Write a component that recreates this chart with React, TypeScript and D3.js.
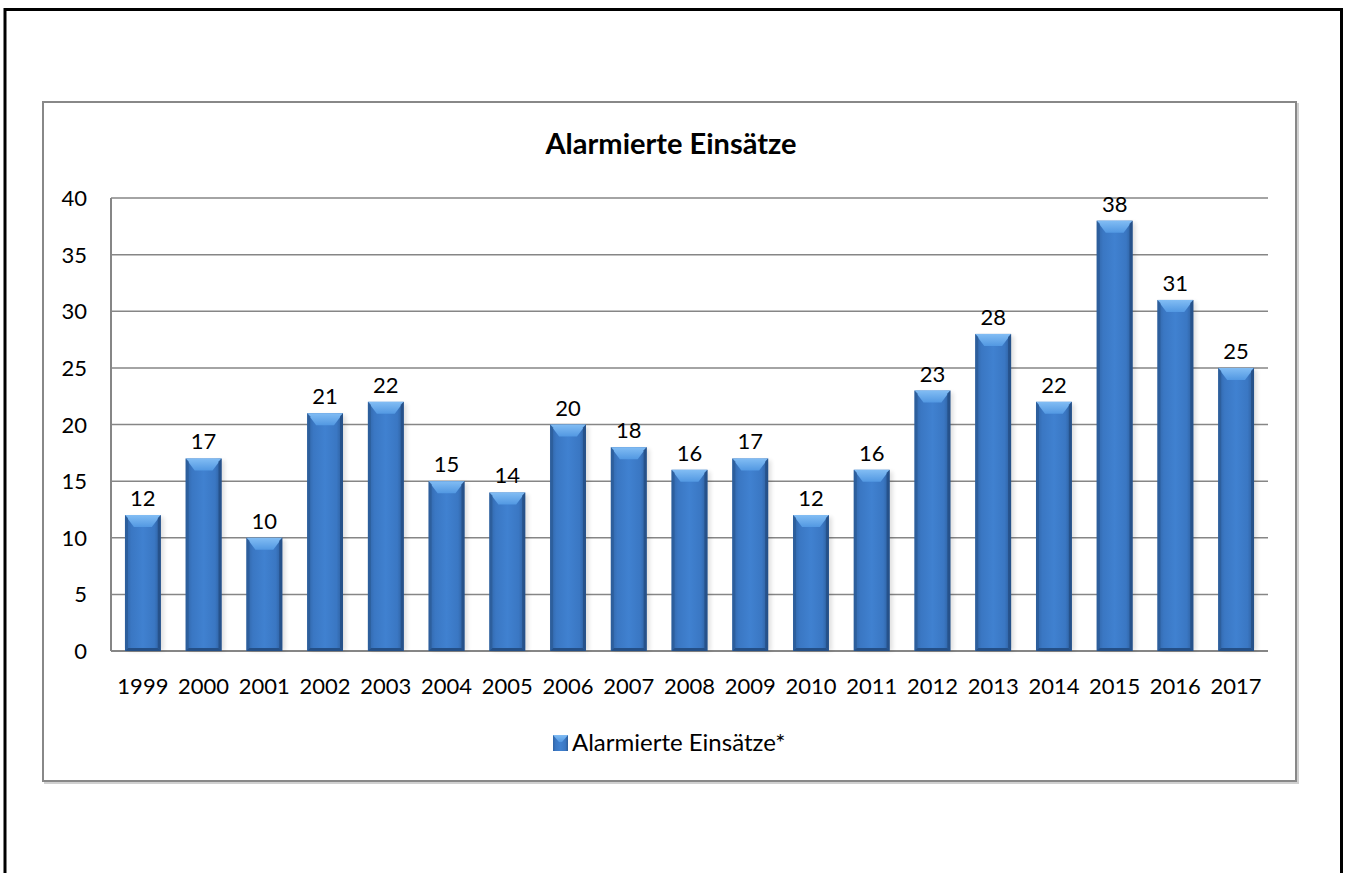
import React from 'react';
import { scaleBand, scaleLinear } from 'd3';

// Daten
const years = ['1999', '2000', '2001', '2002', '2003', '2004', '2005', '2006', '2007', '2008', '2009', '2010', '2011', '2012', '2013', '2014', '2015', '2016', '2017'];
const einsaetze = [12, 17, 10, 21, 22, 15, 14, 20, 18, 16, 17, 12, 16, 23, 28, 22, 38, 31, 25];
const yTicks = [0, 5, 10, 15, 20, 25, 30, 35, 40];
const title = 'Alarmierte Einsätze';
const seriesName = 'Alarmierte Einsätze*';

const font = 'Lato, sans-serif';

function App() {
  const width = 1346,
    height = 873;
  const plot = { left: 111, right: 1268, top: 198, bottom: 651 };

  const x = scaleBand<string>()
    .domain(years)
    .range([plot.left, plot.right])
    .paddingInner(0.41)
    .paddingOuter(0.23);
  const y = scaleLinear().domain([0, 40]).range([plot.bottom, plot.top]);

  // Balken mit Kanteneffekt
  const bar = (yr: string, v: number) => {
    const bx = x(yr) as number;
    const bw = x.bandwidth();
    const top = y(v);
    const bot = y(0);
    const b = 9; // Breite der Abschrägung
    return (
      <g key={yr}>
        <rect x={bx + 3} y={top + 2} width={bw} height={bot - top - 2} fill="#000" opacity={0.12} filter="url(#shadow)" />
        <rect x={bx} y={top} width={bw} height={bot - top} fill="url(#barBody)" />
        {/* oben */}
        <polygon
          points={`${bx},${top} ${bx + bw},${top} ${bx + bw - b},${top + b + 3} ${bx + b},${top + b + 3}`}
          fill="url(#barTop)"
        />
        {/* links */}
        <polygon points={`${bx},${top} ${bx + 3},${top + 3} ${bx + 3},${bot - 3} ${bx},${bot}`} fill="#2c5c99" opacity={0.8} />
        {/* rechts */}
        <polygon
          points={`${bx + bw},${top} ${bx + bw - 3},${top + 3} ${bx + bw - 3},${bot - 3} ${bx + bw},${bot}`}
          fill="#244f86"
          opacity={0.85}
        />
        {/* unten */}
        <polygon
          points={`${bx},${bot} ${bx + 3},${bot - 3} ${bx + bw - 3},${bot - 3} ${bx + bw},${bot}`}
          fill="#244f86"
        />
        <text x={bx + bw / 2} y={top - 9} textAnchor="middle" fontSize={22} fill="#000">
          {v}
        </text>
      </g>
    );
  };

  return (
    <svg
      width={width}
      height={height}
      style={{ position: 'absolute', left: 0, top: 0, display: 'block', fontFamily: font }}
    >
      <defs>
        <linearGradient id="barBody" x1="0" x2="1" y1="0" y2="0">
          <stop offset="0%" stopColor="#3064a6" />
          <stop offset="18%" stopColor="#3a77c3" />
          <stop offset="50%" stopColor="#4081d0" />
          <stop offset="82%" stopColor="#3a77c3" />
          <stop offset="100%" stopColor="#2c5c99" />
        </linearGradient>
        <linearGradient id="barTop" x1="0" x2="0" y1="0" y2="1">
          <stop offset="0%" stopColor="#82bdf4" />
          <stop offset="100%" stopColor="#5298e2" />
        </linearGradient>
        <filter id="shadow" x="-20%" y="-5%" width="140%" height="110%">
          <feGaussianBlur stdDeviation="2" />
        </filter>
      </defs>
      <rect x={0} y={0} width={width} height={height} fill="#fff" />

      {/* Rahmen */}
      <path d={`M5,${height + 5} V9.5 H1341.5 V${height + 5}`} fill="none" stroke="#000" strokeWidth={3} />

      {/* Diagrammbereich */}
      <rect x={44} y={103} width={1253} height={679} fill="none" stroke="#d0d0d0" strokeWidth={2} transform="translate(1,1)" />
      <rect x={43} y={102} width={1253} height={679} fill="#fff" stroke="#888" strokeWidth={2} />

      <text x={671} y={154} textAnchor="middle" fontSize={29} fontWeight="bold" fill="#000">
        {title}
      </text>

      {/* Gitter */}
      {yTicks.map((t) => (
        <g key={t}>
          <line x1={plot.left} x2={plot.right} y1={y(t)} y2={y(t)} stroke="#868686" strokeWidth={t === 0 ? 2 : 1.5} />
          <text x={plot.left - 24} y={y(t) + 8} textAnchor="end" fontSize={22} fill="#000">
            {t}
          </text>
        </g>
      ))}
      <line x1={plot.left} x2={plot.left} y1={plot.top} y2={plot.bottom} stroke="#868686" strokeWidth={2} />

      {years.map((yr, i) => bar(yr, einsaetze[i]))}

      {years.map((yr) => (
        <text key={yr} x={(x(yr) as number) + x.bandwidth() / 2} y={694} textAnchor="middle" fontSize={22} fill="#000">
          {yr}
        </text>
      ))}

      {/* Legende */}
      <g>
        <rect x={553} y={735} width={15} height={16} fill="url(#barBody)" />
        <polygon points="553,735 568,735 562,742 559,742" fill="url(#barTop)" />
        <text x={572} y={751} fontSize={24} fill="#000">
          {seriesName}
        </text>
      </g>
    </svg>
  );
}

export default App;
